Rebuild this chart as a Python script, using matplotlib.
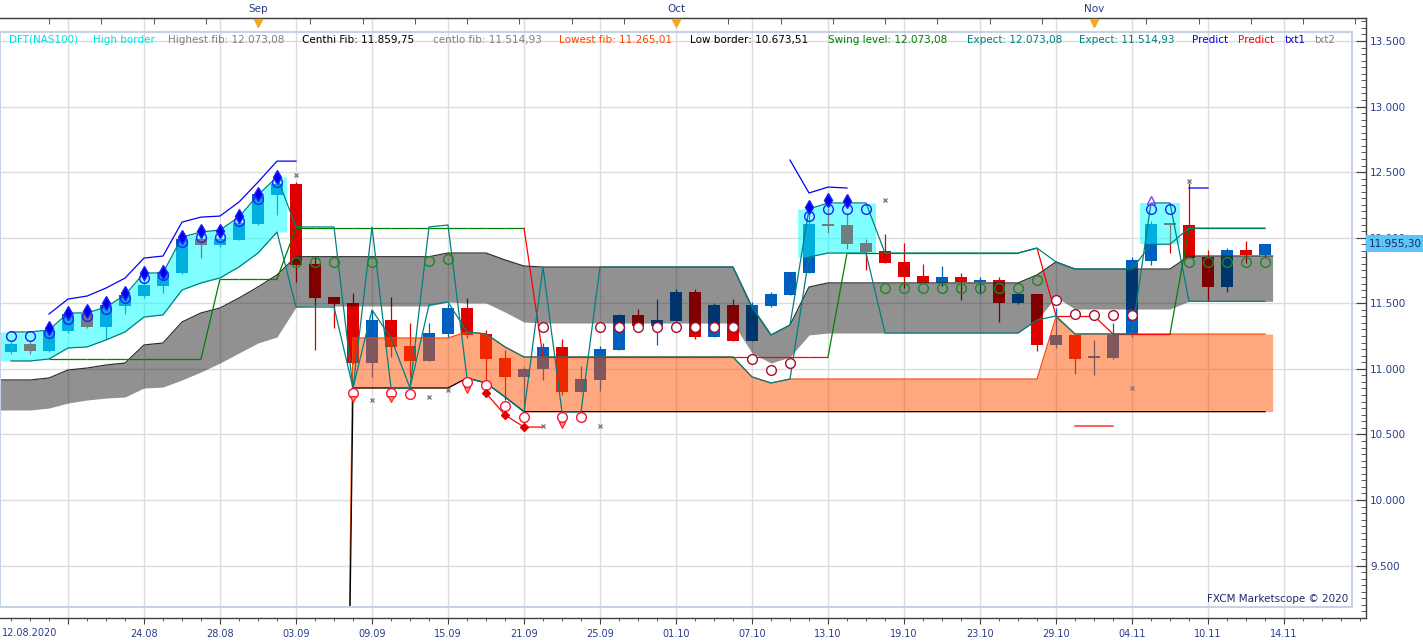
import numpy as np
import matplotlib
matplotlib.use("Agg")
import matplotlib.pyplot as plt
from matplotlib.patches import Rectangle
from matplotlib.collections import LineCollection
from matplotlib.transforms import blended_transform_factory
from matplotlib.ticker import MultipleLocator, FixedLocator

nan = np.nan

# ---------------- data (one value per daily candle) ----------------
open_ = [11128, 11189, 11136, 11288, 11418, 11319, 11479, 11555, 11632, 11731,
         11990, 11944, 11982, 12104, 12326, 12410, 11799, 11548, 11502, 11044,
         11372, 11174, 11060, 11266, 11464, 11266, 11083, 10938, 10999, 11167,
         10823, 10915, 11144, 11411, 11327, 11365, 11586, 11243, 11487, 11212,
         11479, 11563, 11731, 12104, 12097, 11960, 11899, 11815, 11708, 11655,
         11700, 11662, 11677, 11502, 11571, 11182, 11258, 11083, 11083, 11258,
         11822, 12100, 12097, 11853, 11624, 11906, 11868]
high = [11205, 11205, 11334, 11449, 11449, 11510, 11586, 11731, 11754, 12005,
        12043, 12043, 12173, 12364, 12455, 12425, 11853, 11548, 11578, 11449,
        11548, 11349, 11349, 11494, 11540, 11296, 11144, 11014, 11197, 11228,
        11022, 11174, 11415, 11456, 11533, 11609, 11609, 11502, 11533, 11510,
        11586, 11738, 12188, 12226, 12188, 11990, 12028, 11960, 11799, 11784,
        11731, 11700, 11700, 11571, 11571, 11464, 11258, 11220, 11349, 11853,
        12127, 12112, 12417, 11906, 11921, 11975, 11955.3]
low = [11113, 11113, 11130, 11273, 11311, 11228, 11418, 11540, 11578, 11725,
       11845, 11929, 11980, 12097, 12173, 11662, 11144, 11311, 11040, 10938,
       11090, 10938, 11058, 11243, 11235, 10915, 10762, 10648, 10915, 10800,
       10820, 10831, 11140, 11327, 11182, 11365, 11228, 11243, 11212, 11212,
       11471, 11563, 11731, 12036, 11914, 11754, 11807, 11616, 11655, 11632,
       11525, 11571, 11357, 11494, 11136, 11159, 10960, 10953, 11075, 11243,
       11792, 11883, 11845, 11517, 11586, 11807, 11860]
close = [11189, 11136, 11296, 11418, 11319, 11487, 11563, 11639, 11738, 11990,
         11944, 11990, 12112, 12333, 12410, 11792, 11540, 11494, 11044, 11372,
         11167, 11060, 11273, 11464, 11258, 11075, 10938, 10999, 11167, 10823,
         10922, 11151, 11411, 11327, 11372, 11586, 11243, 11487, 11212, 11487,
         11571, 11738, 12104, 12089, 11952, 11891, 11807, 11700, 11655, 11700,
         11662, 11677, 11502, 11571, 11182, 11258, 11075, 11090, 11258, 11830,
         12104, 12095, 11845, 11624, 11906, 11868, 11955.3]

centhi_fib = [10915, 10915, 10930, 10991, 11006, 11029, 11044, 11182, 11197, 11357,
              11426, 11464, 11540, 11624, 11716, 11855, 11855, 11855, 11855, 11855,
              11855, 11855, 11855, 11883, 11883, 11883, 11830, 11784, 11776, 11776,
              11776, 11776, 11776, 11776, 11776, 11776, 11776, 11776, 11776, 11471,
              11258, 11334, 11624, 11655, 11655, 11655, 11655, 11655, 11655, 11655,
              11655, 11655, 11655, 11655, 11716, 11815, 11761, 11761, 11761, 11761,
              11761, 11761, 11860, 11860, 11860, 11860, 11860]
centlo_fib = [10686, 10686, 10701, 10739, 10762, 10777, 10785, 10854, 10861, 10915,
              10976, 11044, 11121, 11197, 11243, 11471, 11479, 11479, 11479, 11479,
              11479, 11479, 11479, 11510, 11502, 11502, 11433, 11357, 11349, 11349,
              11349, 11349, 11349, 11349, 11349, 11349, 11349, 11349, 11349, 11121,
              11044, 11090, 11258, 11273, 11273, 11273, 11273, 11273, 11273, 11273,
              11273, 11273, 11273, 11273, 11372, 11548, 11456, 11456, 11456, 11456,
              11456, 11456, 11515, 11515, 11515, 11515, 11515]

high_border_hi = ([11281, 11281, 11296, 11426, 11426, 11471, 11563, 11731, 11731, 12005,
                   12043, 12059, 12158, 12326, 12463] + [nan] * 27 +
                  [12219, 12265, 12265, 12265] + [nan] * 14 + [12265, 12265] + [nan] * 5)
high_border_lo = ([11060, 11060, 11075, 11159, 11167, 11220, 11281, 11395, 11411, 11601,
                   11655, 11693, 11777, 11883, 12043] + [nan] * 27 +
                  [11853, 11883, 11883, 11883] + [nan] * 14 + [11950, 11950] + [nan] * 5)

lowest_fib = ([nan] * 17 + [0] + [11235] * 6 + [11281, 11266, 11167] + [11090] * 12 +
              [10938, 10892] + [10922] * 14 + [11395] + [11265] * 11)
low_border = ([nan] * 17 + [0] + [10854] * 6 + [10930, 10892, 10785] + [10673.5] * 40)

expect_1 = ([11281, 11281, 11296, 11426, 11426, 11471, 11563, 11731, 11731, 12005,
             12043, 12059, 12158, 12326, 12463] +
            [12082, 12082, 12082, 10854, 12082, 10854, 10854, 12082, 12097] +
            [10930, 10892, 10785, 10671, 11776, 10671, 10671] + [11776] * 8 +
            [11471, 11258, 11334] + [12219, 12265, 12265, 12265] + [11883] * 8 +
            [11921, 11815] + [11761] * 4 + [11950, 11950] + [12073] * 5)
expect_2 = ([11060, 11060, 11075, 11159, 11167, 11220, 11281, 11395, 11411, 11601,
             11655, 11693, 11777, 11883, 12043] +
            [11471, 11471, 11471, 10854, 11449, 11235, 10854, 11487, 11510] +
            [11281, 11266, 11167] + [11090] * 12 + [10938, 10892, 10922] +
            [11853, 11883, 11883, 11883] + [11273] * 8 + [11372, 11403] +
            [11266] * 4 + [12265, 12265] + [11515] * 5)

swing_level = ([nan, nan] + [11075] * 9 + [11685] * 4 + [12075] * 13 + [11090] * 16 +
               [11883] * 10 + [11921] + [11403] * 3 + [11266] * 4 + [12073] * 5)
swing_dir = ([0, 0] + [1] * 9 + [1] * 4 + [1] * 13 + [-1] * 16 +
             [1] * 10 + [1] + [-1] * 3 + [-1] * 4 + [1] * 5)

predict_up = ([nan, nan, 11418, 11532, 11555, 11616, 11692, 11845, 11860, 12119,
               12157, 12165, 12272, 12424, 12584, 12584] + [nan] * 25 +
              [12592, 12341, 12386, 12379] + [nan] * 17 + [12379, 12379] + [nan] * 3)
predict_dn = [nan] * 25 + [10815, 10648, 10556, 10556] + [nan] * 27 + [10564] * 3 + [nan] * 8

up_diamond = ([nan, nan, 11311, 11426, 11441, 11502, 11578, 11731, 11738, 12005,
               12051, 12051, 12165, 12333, 12463] + [nan] * 27 +
              [12234, 12287, 12280] + [nan] * 22)
up_triangle = [nan] * 60 + [12287] + [nan] * 6
up_circle = ([11250, 11250, 11273, 11380, 11403, 11456, 11540, 11693, 11716, 11967,
              12005, 12005, 12127, 12295, 12425] + [nan] * 27 +
             [12165, 12219, 12219, 12219] + [nan] * 14 + [12219, 12219] + [nan] * 5)
mid_circle = ([nan] * 15 + [11815, 11815, 11815, nan, 11815, nan, nan, 11822, 11840] +
              [nan] * 22 + [11616] * 8 + [11677] + [nan] * 7 + [11815] * 5)
dn_circle = ([nan] * 18 + [10815, nan, 10815, 10808, nan, nan, 10900, 10877, 10716,
                           10632, nan, 10632, 10632] + [nan] * 36)
dn_circle_dark = ([nan] * 28 + [11319, nan, nan] + [11319] * 8 + [11075, 10991, 11044] +
                  [nan] * 13 + [11525, 11418, 11411, 11411, 11411] + [nan] * 7)
dn_triangle = ([nan] * 18 + [10770, nan, 10770, nan, nan, nan, 10838, nan, nan, nan, nan,
                             10571] + [nan] * 37)
red_diamond = [nan] * 25 + [10815, 10648, 10556] + [nan] * 39
x_mark_idx = [15, 19, 22, 23, 28, 31, 46, 59, 62]
x_mark_val = [12478, 10762, 10785, 10838, 10564, 10564, 12287, 10854, 12432]

date_ticks = [7, 11, 15, 19, 23, 27, 31, 35, 39, 43, 47, 51, 55, 59, 63, 67]
date_labels = ["24.08", "28.08", "03.09", "09.09", "15.09", "21.09", "25.09", "01.10",
               "07.10", "13.10", "19.10", "23.10", "29.10", "04.11", "10.11", "14.11"]
first_date = "12.08.2020"
month_ticks = [13, 35, 57]
month_labels = ["Sep", "Oct", "Nov"]
last_price = 11955.30

legend_texts = ["DFT(NAS100)", "High border", "Highest fib: 12.073,08", "Centhi Fib: 11.859,75",
                "centlo fib: 11.514,93", "Lowest fib: 11.265,01", "Low border: 10.673,51",
                "Swing level: 12.073,08", "Expect: 12.073,08", "Expect: 11.514,93",
                "Predict", "Predict", "txt1", "txt2"]
legend_colors = ["#00E0E0", "#00E0E0", "#808080", "#000000", "#808080", "#FF4500", "#000000",
                 "#008000", "#008080", "#008080", "#0000FF", "#FF0000", "#0000CC", "#808080"]
legend_px = [9, 93, 168, 302, 433, 559, 690, 828, 967, 1079, 1192, 1238, 1285, 1315]

# ---------------- figure ----------------
W, H = 1423, 644
AX_R, AX_T, AX_B = 1366, 18, 618
fig = plt.figure(figsize=(W / 100, H / 100), dpi=100)
ax = fig.add_axes([0, (H - AX_B) / H, AX_R / W, (AX_B - AX_T) / H])
ax.set_xlim(-11 / 19, (AX_R - 11) / 19)
ax.set_ylim(9099.8, 13675.4)
ax.set_axisbelow(True)

n = len(close)
idx = np.arange(n)
o = np.array(open_, float); h = np.array(high, float)
l = np.array(low, float); c = np.array(close, float)

TXT = "#283C8C"
# grid / axes
ax.grid(True, which="major", color="#DCDCDC", lw=1.0)
for s in ["left"]:
    ax.spines[s].set_visible(False)
for s in ["top", "right", "bottom"]:
    ax.spines[s].set_color("#404040")
    ax.spines[s].set_linewidth(1.0)

ax.yaxis.tick_right()
yt = np.arange(9500, 13501, 500)
ax.set_yticks(yt)
ax.set_yticklabels([f"{int(v):,}".replace(",", ".") for v in yt])
ax.yaxis.set_minor_locator(MultipleLocator(50))
ax.tick_params(axis="y", which="major", direction="in", length=7, color="#404040",
               labelsize=7.5, labelcolor=TXT, pad=3, left=False, right=True)
ax.tick_params(axis="y", which="minor", direction="in", length=3.5, color="#404040",
               left=False, right=True)

ax.xaxis.set_major_locator(FixedLocator([3] + date_ticks))
ax.set_xticklabels([""] + date_labels)
ax.xaxis.set_minor_locator(FixedLocator(np.arange(0, 72)))
ax.tick_params(axis="x", which="major", direction="out", length=4, color="#404040",
               labelsize=7, labelcolor=TXT, pad=4)
ax.tick_params(axis="x", which="minor", direction="out", length=2.5, color="#404040")
ax.text(0.0015, -10 / 600, first_date, transform=ax.transAxes, ha="left", va="top",
        fontsize=7, color=TXT)

sec = ax.secondary_xaxis("top")
sec.set_xticks(month_ticks)
sec.set_xticklabels(month_labels)
sec.xaxis.set_minor_locator(FixedLocator(np.arange(13 - 2.75 * 4, 71.3, 2.75)))
sec.tick_params(axis="x", which="major", direction="in", length=4, color="#404040",
                labelsize=7.5, labelcolor=TXT, pad=3)
sec.tick_params(axis="x", which="minor", direction="in", length=4, color="#404040")
sec.spines["top"].set_color("#404040")

# ---------------- candles ----------------
up = c >= o
cols = np.where(up, "#0060C0", "#E00000")
ax.vlines(idx, l, h, colors=cols, lw=0.9, zorder=2)
ax.bar(idx, np.maximum(np.abs(c - o), 14), bottom=np.minimum(o, c), width=0.63,
       color=cols, lw=0, zorder=2)

# ---------------- bands ----------------
def runs(vals):
    ok = ~np.isnan(vals)
    out, i = [], 0
    while i < len(vals):
        if ok[i]:
            j = i
            while j + 1 < len(vals) and ok[j + 1]:
                j += 1
            out.append((i, j))
            i = j + 1
        else:
            i += 1
    return out


def band(hi, lo, color, alpha, ext_l, ext_r, edge=None):
    hi = np.asarray(hi, float); lo = np.asarray(lo, float)
    for a, b in runs(hi):
        xs = np.r_[a - ext_l, np.arange(a, b + 1), b + ext_r]
        hs = np.r_[hi[a], hi[a:b + 1], hi[b]]
        ls = np.r_[lo[a], lo[a:b + 1], lo[b]]
        ax.fill_between(xs, ls, hs, color=color, alpha=alpha, lw=0, zorder=3)
        if edge is not None:
            ax.plot(xs, hs, color=edge, lw=0.9, zorder=4)


band(centhi_fib, centlo_fib, "black", 0.43, 0.6, 0.4, edge="#303030")
band(high_border_hi, high_border_lo, "#00FFFF", 0.5, 0.6, 0.5)
lf = np.array(lowest_fib, float); lb = np.array(low_border, float)
on_chart = np.where(lf > 0, 1.0, nan)
band(lf * on_chart, lb * on_chart, "#FF5000", 0.5, 0.0, 0.4)

# ---------------- lines ----------------
ax.plot(idx, lf, color="#FF4500", lw=0.9, zorder=4)
ax.plot(idx, lb, color="black", lw=0.9, zorder=4)
sw = np.array(swing_level, float)
segs, scol = [], []
for i in range(1, n):
    if not np.isnan(sw[i - 1]) and not np.isnan(sw[i]):
        segs.append([(i - 1, sw[i - 1]), (i, sw[i])])
        scol.append("#008000" if swing_dir[i] > 0 else "#FF0000")
ax.add_collection(LineCollection(segs, colors=scol, lw=0.9, zorder=4.2))
ax.plot(idx, expect_1, color="#008080", lw=0.9, zorder=4.5)
ax.plot(idx, expect_2, color="#008080", lw=0.9, zorder=4.5)
ax.plot(idx, predict_up, color="#0000FF", lw=0.9, zorder=4.5)
ax.plot(idx, predict_dn, color="#FF0000", lw=0.9, zorder=4.5)

# ---------------- markers ----------------
mk = dict(ls="none", zorder=5)
ax.plot(idx, up_circle, marker="o", ms=7, mfc="none", mec="#2020FF", mew=1, **mk)
ax.plot(idx, up_diamond, marker="d", ms=7, color="#0000EE", mec="#2020FF", **mk)
ax.plot(idx, up_triangle, marker="^", ms=6, mfc="none", mec="#8040FF", mew=1, **mk)
ax.plot(idx, mid_circle, marker="o", ms=7, mfc="none", mec="#1A8A1A", mew=1, **mk)
ax.plot(idx, dn_circle, marker="o", ms=7, mfc="white", mec="#FF1030", mew=1, **mk)
ax.plot(idx, dn_circle_dark, marker="o", ms=7, mfc="white", mec="#A01030", mew=1, **mk)
ax.plot(idx, dn_triangle, marker="v", ms=5, mfc="#FF8080", mec="#FF2020", mew=0.8, **mk)
ax.plot(idx, red_diamond, marker="D", ms=4.5, color="#E00000", **mk)
ax.plot(x_mark_idx, x_mark_val, marker="x", ms=3.5, color="#808080", mew=1, **mk)

# clip data to the inner frame
fx0, fy0 = 0, (AX_B - 607) / 600
fw, fh = 1352 / AX_R, (607 - 32) / 600
clip_rect = Rectangle((fx0, fy0), fw, fh, transform=ax.transAxes)
for art in list(ax.lines) + list(ax.collections) + list(ax.patches):
    art.set_clip_path(clip_rect)

ax.add_patch(Rectangle((fx0, fy0), fw, fh, transform=ax.transAxes, fill=False,
                       ec="#C5D3E2", lw=1.5, zorder=6, clip_on=False))

# month markers (orange triangles under the top axis)
ax.plot(month_ticks, [1 - 5 / 600] * 3, transform=ax.get_xaxis_transform(), ls="none",
        marker="v", ms=6, color="#F5A623", clip_on=False, zorder=7)

# legend texts
for t, col, px in zip(legend_texts, legend_colors, legend_px):
    ax.text(px / AX_R, (AX_B - 40) / 600, t, transform=ax.transAxes, ha="left",
            va="center", fontsize=7.5, color=col, zorder=8)

ax.text(1348 / AX_R, (AX_B - 599) / 600, "FXCM Marketscope © 2020", transform=ax.transAxes,
        ha="right", va="center", fontsize=7.5, color="#1A2A6C", zorder=8)

# last price box on the right axis
tr = blended_transform_factory(ax.transAxes, ax.transData)
ax.text(1 + 3 / AX_R, last_price, f"{last_price:,.2f}".replace(",", "X").replace(".", ",").replace("X", "."),
        transform=tr, ha="left", va="center", fontsize=7.5, color="#1A2A6C", zorder=10,
        clip_on=False, bbox=dict(boxstyle="square,pad=0.3", fc="#5BC6F5", ec="none"))

fig.savefig("out.png", dpi=100)
